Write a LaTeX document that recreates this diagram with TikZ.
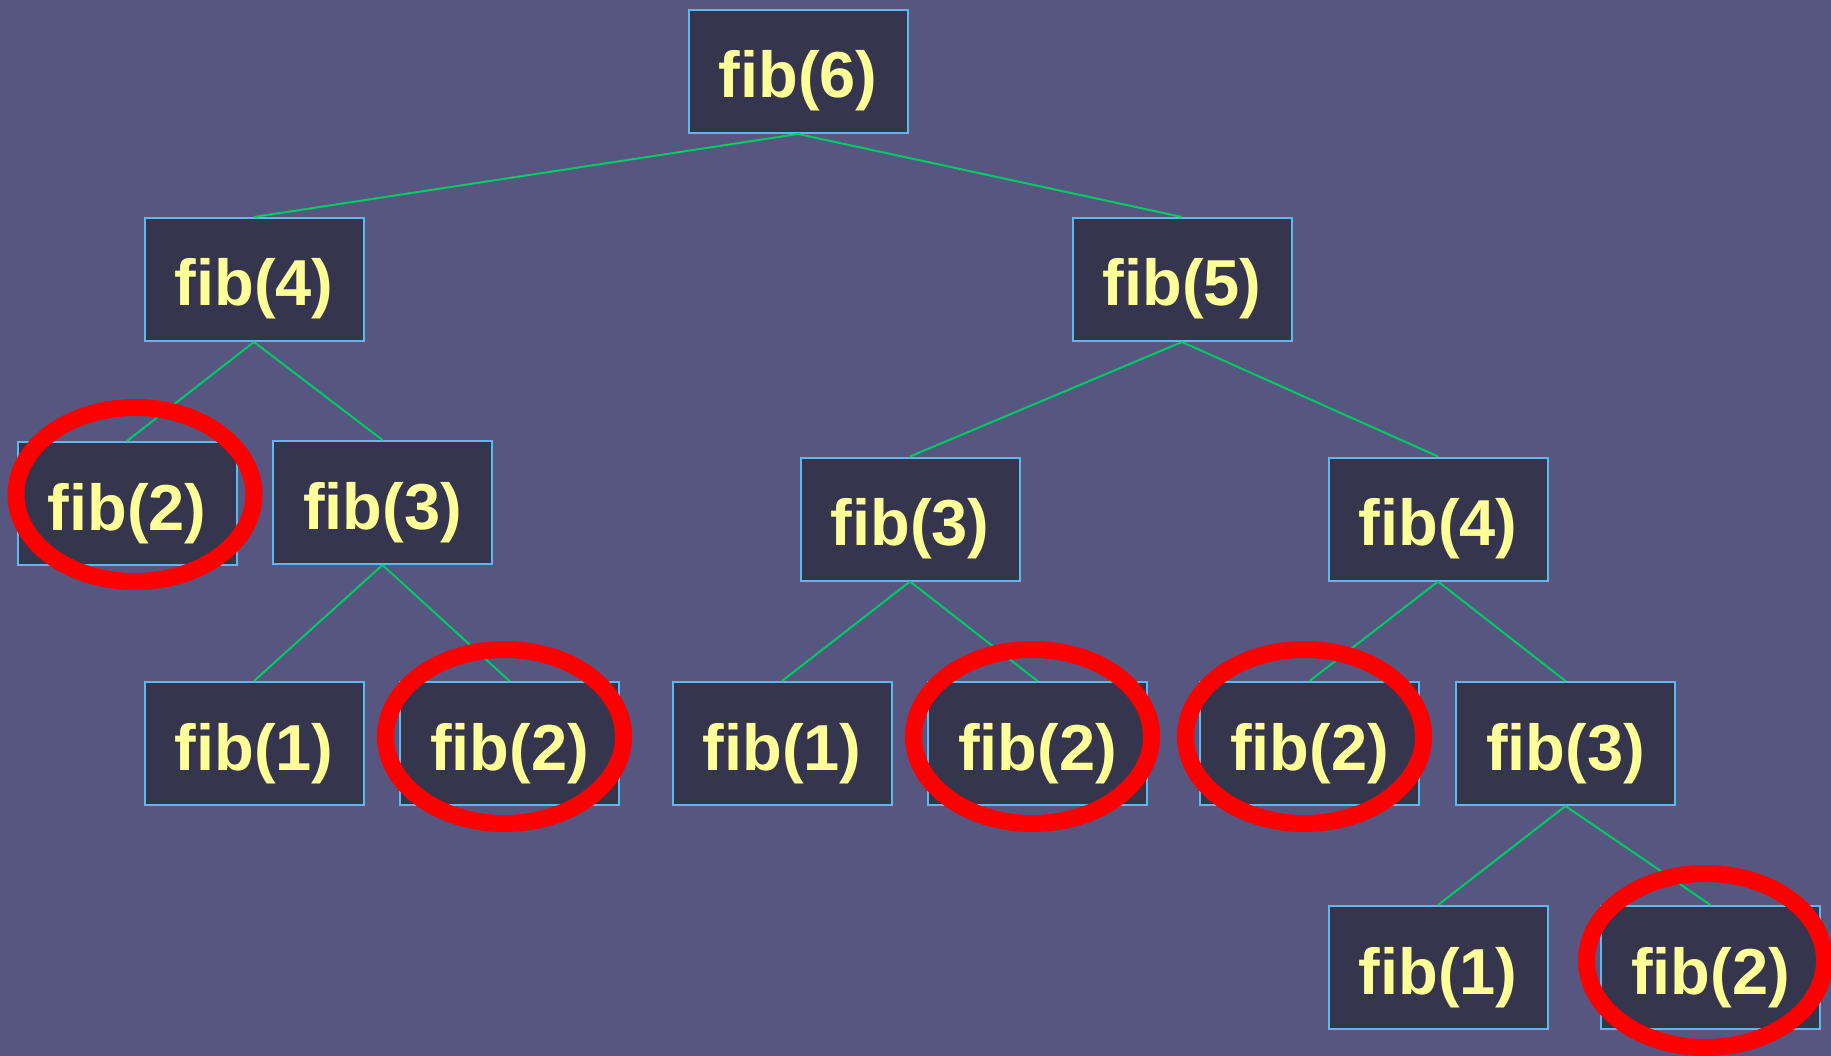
\documentclass[tikz,border=0pt]{standalone}
\usepackage{fontspec}
\setmainfont{Liberation Sans}
\definecolor{bg}{HTML}{565680}
\definecolor{boxfill}{HTML}{35354E}
\definecolor{boxline}{HTML}{5CB8F0}
\definecolor{txt}{HTML}{FFFF99}
\definecolor{edge}{HTML}{00CC66}
\definecolor{ring}{HTML}{FF0000}
\begin{document}
\begin{tikzpicture}[x=1pt,y=-1pt,
  fibbox/.style={draw=boxline,line width=2pt,fill=boxfill,minimum width=219pt,minimum height=123pt,inner sep=0pt,
    text=txt,font=\fontsize{65}{72}\selectfont\bfseries,text height=60pt,text depth=7pt},
  conn/.style={draw=edge,line width=2pt},
  hl/.style={draw=ring,line width=17pt}]
\fill[bg] (0,0) rectangle (1831,1056);
\useasboundingbox (0,0) rectangle (1831,1056);
\node[fibbox] (f6) at (798,71.5) {fib(6)};
\node[fibbox] (f4a) at (254,279.5) {fib(4)};
\node[fibbox] (f5) at (1182,279.5) {fib(5)};
\node[fibbox] (f2a) at (127,503.5) {fib(2)};
\node[fibbox] (f3a) at (382.5,502.5) {fib(3)};
\node[fibbox] (f3b) at (910,519) {fib(3)};
\node[fibbox] (f4b) at (1438,519) {fib(4)};
\node[fibbox] (f1a) at (254,743.5) {fib(1)};
\node[fibbox] (f2b) at (509.5,743.5) {fib(2)};
\node[fibbox] (f1b) at (782,743.5) {fib(1)};
\node[fibbox] (f2c) at (1037.5,743.5) {fib(2)};
\node[fibbox] (f2d) at (1309.5,743.5) {fib(2)};
\node[fibbox] (f3c) at (1565.5,743.5) {fib(3)};
\node[fibbox] (f1c) at (1438,967.5) {fib(1)};
\node[fibbox] (f2e) at (1710.5,967.5) {fib(2)};
\foreach \p/\c in {f6/f4a,f6/f5,f4a/f2a,f4a/f3a,f3a/f1a,f3a/f2b,f5/f3b,f5/f4b,f3b/f1b,f3b/f2c,f4b/f2d,f4b/f3c,f3c/f1c,f3c/f2e}
  \draw[conn] (\p.south) -- (\c.north);
\draw[hl] ([shift={(8,-9)}]f2a.center) ellipse [x radius=119, y radius=87];
\foreach \n in {f2b,f2c,f2d,f2e}
  \draw[hl] ([shift={(-5,-7)}]\n.center) ellipse [x radius=119, y radius=87];
\end{tikzpicture}
\end{document}
